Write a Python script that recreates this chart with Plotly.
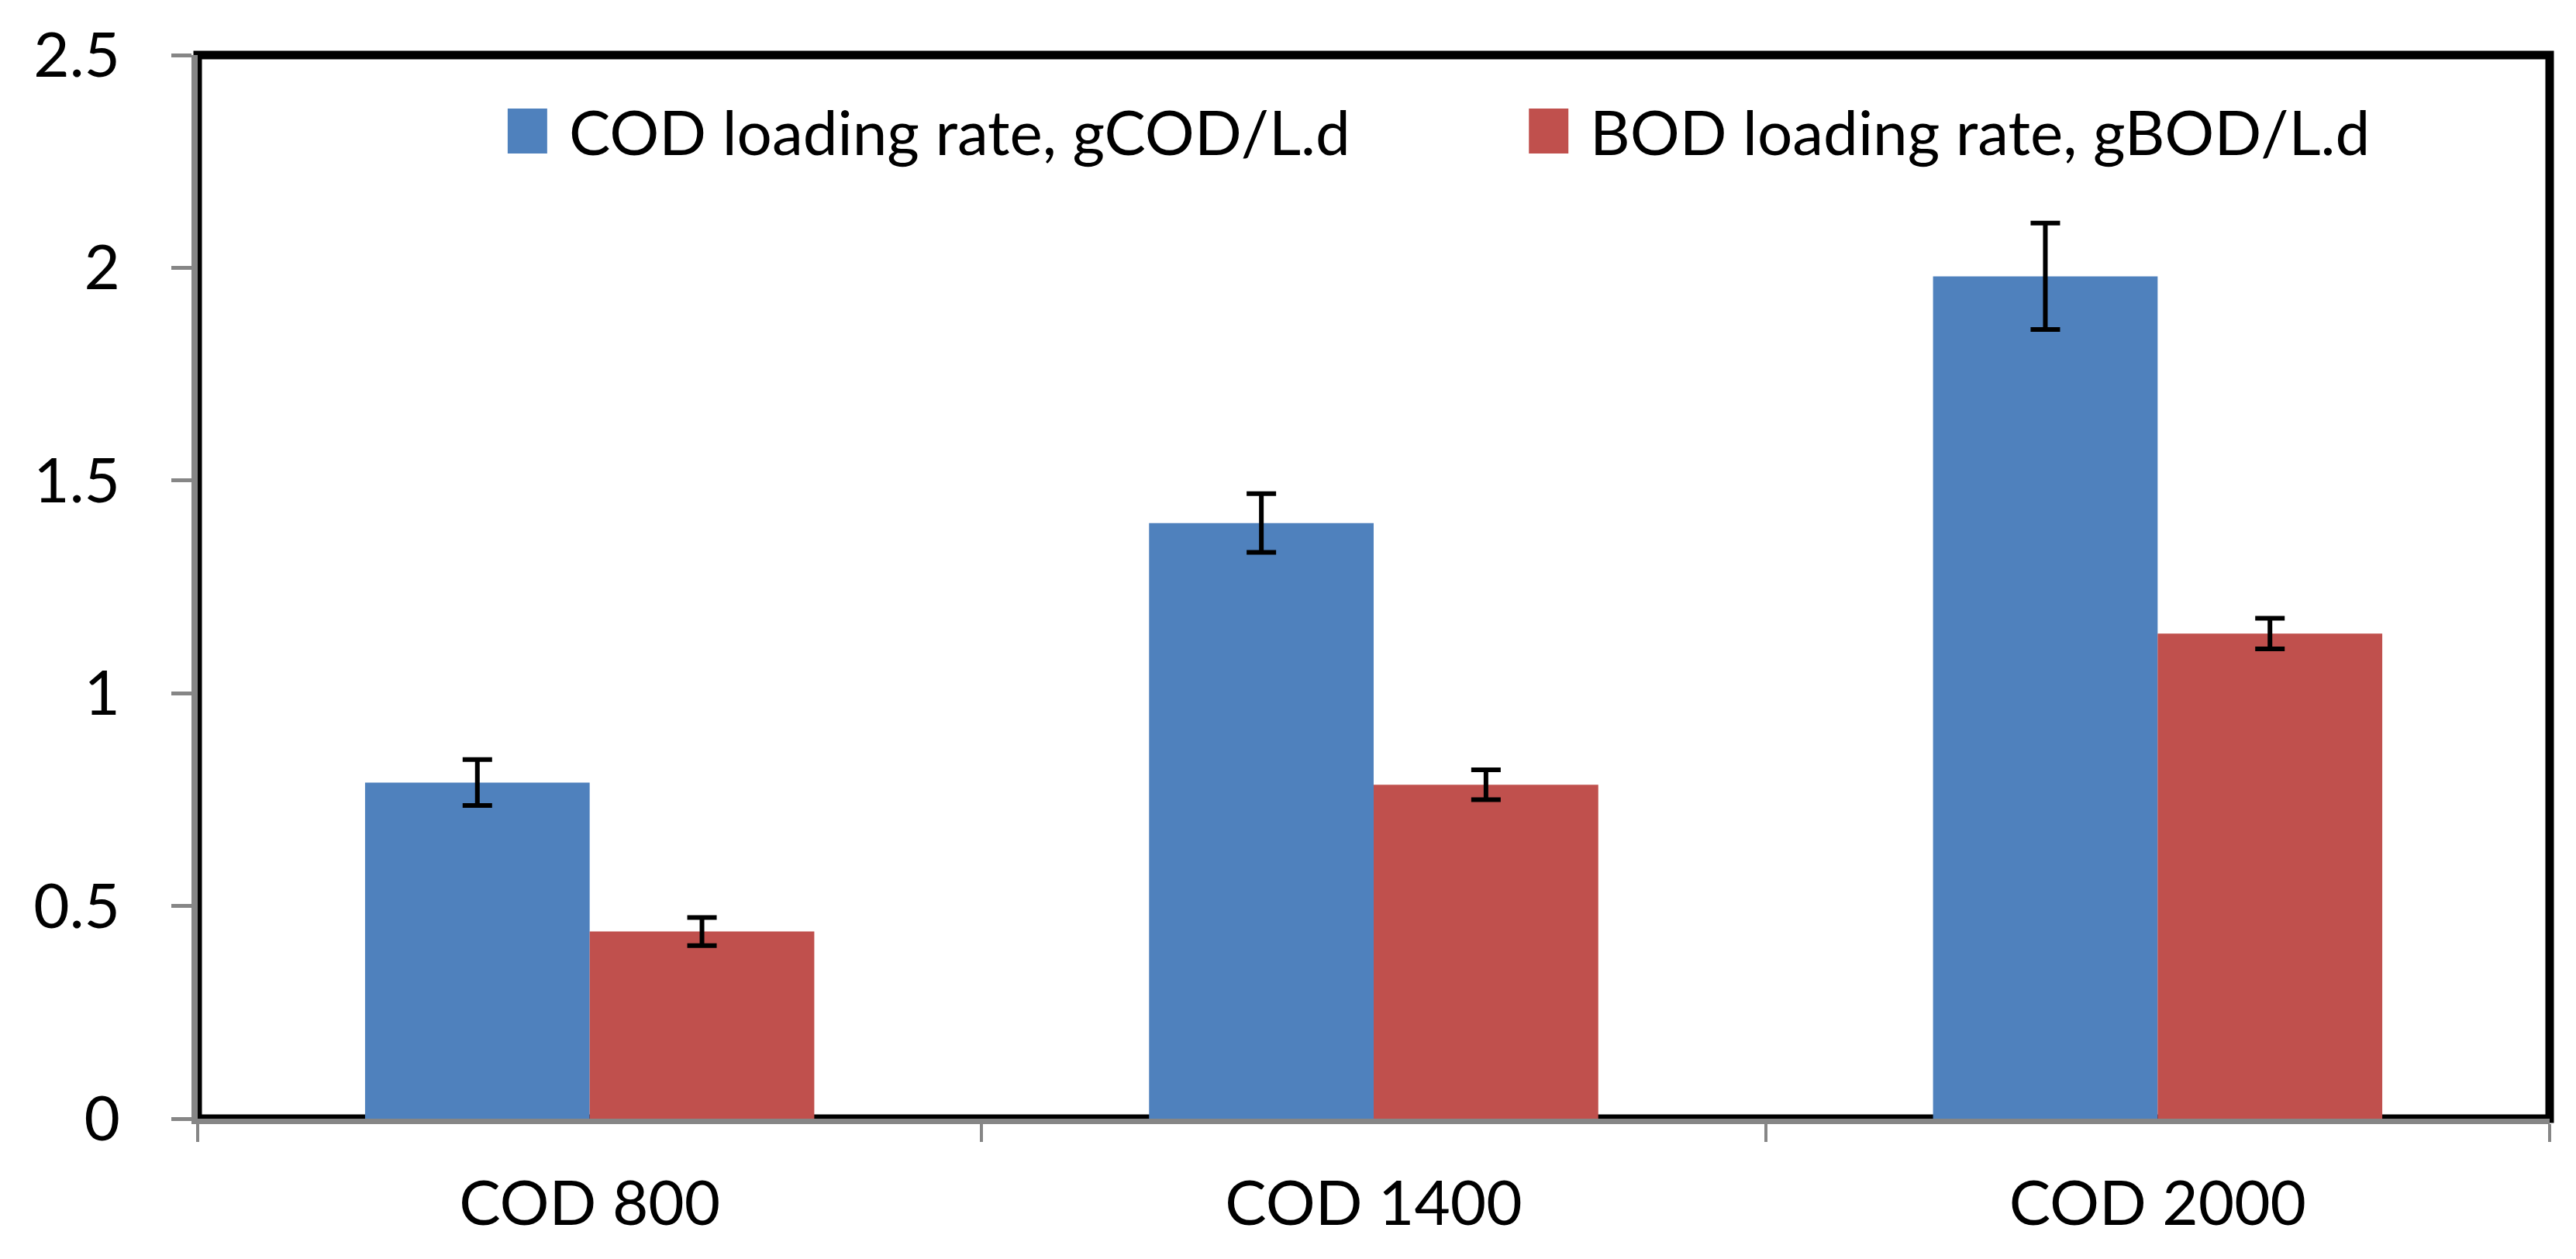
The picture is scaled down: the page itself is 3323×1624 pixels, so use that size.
import plotly.graph_objects as go

categories = ["COD 800", "COD 1400", "COD 2000"]
series_names = ["COD loading rate, gCOD/L.d", "BOD loading rate, gBOD/L.d"]
cod_rate = [0.79, 1.40, 1.98]
cod_err = [0.054, 0.069, 0.125]
bod_rate = [0.44, 0.785, 1.14]
bod_err = [0.033, 0.035, 0.036]
colors = ["#4F81BD", "#C0504D"]
y_ticks = [0, 0.5, 1, 1.5, 2, 2.5]
y_ticktext = ["0", "0.5", "1", "1.5", "2", "2.5"]

FONT = "Lato"
W, H = 3323, 1624
L, R, T, B = 247, 42, 61, 189

fig = go.Figure()
for name, vals, errs, col in [(series_names[0], cod_rate, cod_err, colors[0]),
                              (series_names[1], bod_rate, bod_err, colors[1])]:
    fig.add_trace(go.Bar(
        x=categories, y=vals, name=name, marker=dict(color=col, line=dict(width=0)),
        error_y=dict(type="data", array=errs, visible=True, color="black", thickness=6, width=19),
        showlegend=False,
    ))

fig.update_layout(
    width=W, height=H,
    margin=dict(l=L, r=R, t=T, b=B, pad=0),
    paper_bgcolor="white", plot_bgcolor="white",
    barmode="group", bargap=0.427, bargroupgap=0,
    font=dict(family=FONT, size=80, color="black"),
    xaxis=dict(
        type="category", tickson="boundaries", ticks="outside", ticklen=23, tickwidth=4,
        tickcolor="#868686", showline=True, linecolor="#868686", linewidth=7,
        showgrid=False, zeroline=False, tickfont=dict(family=FONT, size=80),
        ticklabelstandoff=34,
    ),
    yaxis=dict(
        range=[0, 2.5], tickvals=y_ticks, ticktext=y_ticktext, ticks="outside", ticklen=26,
        tickwidth=5, tickcolor="#868686", showline=True, linecolor="#868686", linewidth=8,
        showgrid=False, zeroline=False, tickfont=dict(family=FONT, size=80),
        ticklabelstandoff=50,
    ),
)

# plot-area border (black), drawn beneath axis lines
fig.add_shape(type="rect", xref="paper", yref="paper", x0=0, x1=1, y0=0, y1=1,
              line=dict(color="black", width=11), layer="below")

# custom legend with large swatches
legend_x = [0.1318, 0.566]
for i, (name, col) in enumerate(zip(series_names, colors)):
    fig.add_shape(type="rect", xref="paper", yref="paper",
                  x0=legend_x[i], x1=legend_x[i] + 0.0168, y0=0.9075, y1=0.9497,
                  fillcolor=col, line=dict(width=0))
    fig.add_annotation(xref="paper", yref="paper", x=legend_x[i] + 0.0254, y=0.9286,
                       text=name, showarrow=False, xanchor="left", yanchor="middle",
                       font=dict(family=FONT, size=80, color="black"))

fig.write_html("out.html")
